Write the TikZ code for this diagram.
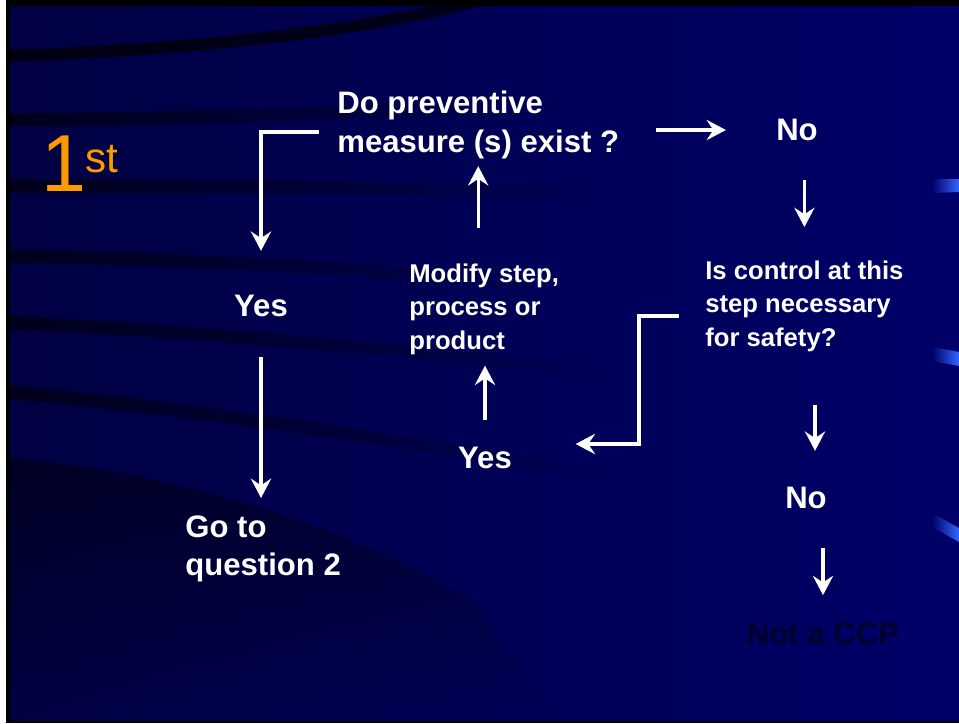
\documentclass[tikz,border=0pt]{standalone}
\usepackage{fontspec}
\setmainfont{Liberation Sans}
\usetikzlibrary{arrows.meta,fadings}
\definecolor{slideNavy}{RGB}{0,0,104}
\definecolor{slideNavyDark}{RGB}{0,0,66}
\definecolor{ccpNavy}{RGB}{0,0,45}
\definecolor{tickBlue}{RGB}{51,102,255}
\definecolor{firstOrange}{RGB}{255,153,0}

\begin{document}
\begin{tikzpicture}[x=0.02cm, y=-0.02cm,
    bigtext/.style={text=white, inner sep=0pt, font=\bfseries\fontsize{17.7}{21.9}\selectfont},
    midtext/.style={text=white, inner sep=0pt, align=left, font=\bfseries\fontsize{14.6}{18.8}\selectfont},
    flow/.style={white, line width=1.75pt, -{Stealth[length=11pt, width=11.5pt, inset=3.8pt]}},
    swoosh/.style={black, opacity=0.6, line width=0.26cm, path fading=east}]
    \useasboundingbox (0,0) rectangle (959,723);

    % slide background and frame
    \fill[white] (0,0) rectangle (959,723);
    \fill[black] (6,0) rectangle (959,723);
    \shade[left color=slideNavyDark, right color=slideNavy] (10,7) rectangle (959,720);

    % dark swooshes
    \begin{scope}
        \clip (10,7) rectangle (959,720);
        \draw[black, opacity=0.7, line width=0.24cm] (0,56) .. controls (200,50) and (370,30) .. (480,0);
        \draw[swoosh] (0,120) .. controls (150,119) and (330,114) .. (560,104);
        \draw[swoosh] (0,186) .. controls (200,186) and (400,188) .. (620,194);
        \draw[swoosh] (0,256) .. controls (150,258) and (330,266) .. (560,285);
        \draw[swoosh] (0,322) .. controls (170,330) and (380,346) .. (620,375);
        \draw[swoosh] (0,392) .. controls (170,405) and (370,436) .. (620,478);
        \fill[black, opacity=0.45, path fading=south] (10,458) .. controls (150,470) and (330,515) .. (470,600) -- (560,720) -- (10,720) -- cycle;
    \end{scope}

    % blue ticks at the right edge
    \shade[left color=slideNavy, right color=tickBlue] (932,179) -- (959,179) -- (959,192) -- (932,193) -- cycle;
    \shade[left color=slideNavy, right color=tickBlue] (932,347) -- (959,352) -- (959,366) -- (932,361) -- cycle;
    \shade[left color=slideNavy, right color=tickBlue] (932,513) -- (959,528) -- (959,542) -- (932,527) -- cycle;

    % title
    \node[text=firstOrange, inner sep=0pt, anchor=base west, font=\fontsize{46}{46}\selectfont] (one) at (41,191) {1};
    \node[text=firstOrange, inner sep=0pt, anchor=base west, font=\fontsize{24}{24}\selectfont] (st) at (85,172) {st};

    % decision texts
    \node[bigtext, align=left, anchor=north west] (q1) at (337,91) {Do preventive\\measure (s) exist ?};
    \node[bigtext] (no1) at (797,130) {No};
    \node[midtext, anchor=north west] (q2) at (705,261) {Is control at this\\step necessary\\for safety?};
    \node[midtext, anchor=north west] (mod) at (409,264) {Modify step,\\process or\\product};
    \node[bigtext] (yes1) at (261,306) {Yes};
    \node[bigtext] (yes2) at (485,458) {Yes};
    \node[bigtext] (no2) at (806,498) {No};
    \node[bigtext, align=left, anchor=north west] (goto) at (185,515) {Go to\\question 2};
    \node[bigtext, text=ccpNavy] (ccp) at (823,634) {Not a CCP};

    % connectors
    \coordinate (q1tap) at (319,132);
    \coordinate (bendA) at (639,316);
    \coordinate (bendB) at (639,444);
    \coordinate (no2top) at ([xshift=0.18cm]no2.north);
    \draw[flow, shorten >=0.88cm] (q1tap) -| (yes1.north);
    \draw[flow, shorten <=0.74cm, shorten >=1.0cm] (q1.east |- no1) -- (no1);
    \draw[flow, shorten <=0.72cm, shorten >=0.14cm] (q1.south |- mod.north) -- (q1.south);
    \draw[flow, shorten <=0.78cm, shorten >=0.68cm] (q2.north |- no1.south) -- (q2.north);
    \draw[flow, shorten <=0.52cm, shorten >=1.27cm] (q2.west |- bendA) -- (bendA) -- (bendB) -- (bendB -| yes2.east);
    \draw[flow, shorten <=0.54cm, shorten >=0.22cm] (yes2.north) -- (yes2.north |- mod.south);
    \draw[flow, shorten <=0.8cm, shorten >=0.34cm] (yes1.south) -- (yes1.south |- goto.north);
    \draw[flow, shorten <=1.06cm, shorten >=0.72cm] (no2top |- q2.south) -- (no2top);
    \draw[flow, shorten <=0.78cm, shorten >=0.55cm] (ccp.north |- no2.south) -- (ccp.north);
\end{tikzpicture}
\end{document}
